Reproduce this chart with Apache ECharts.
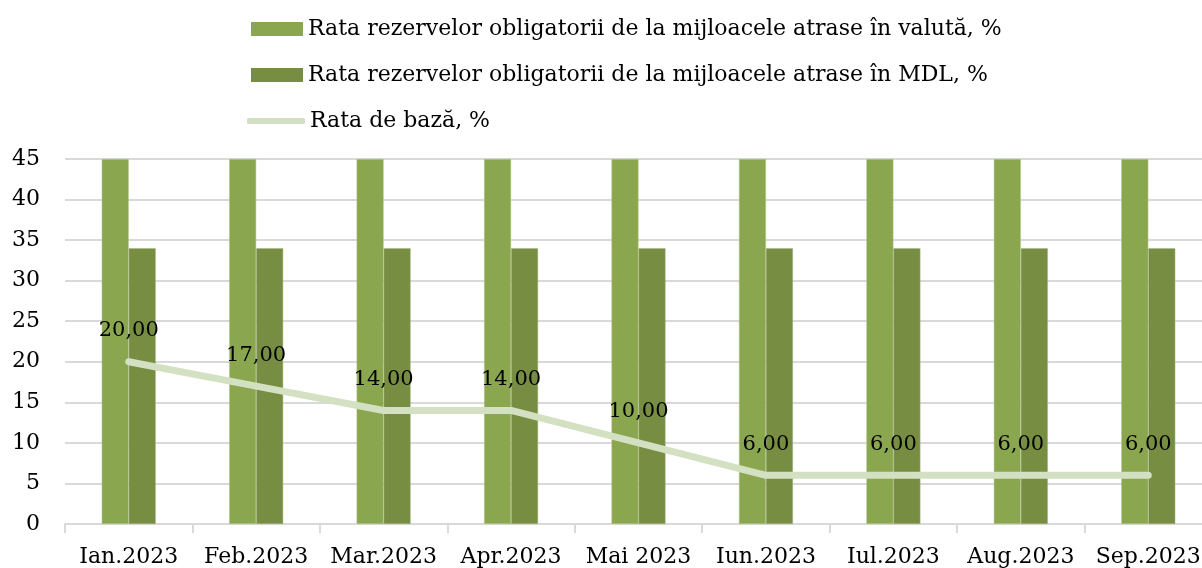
<!DOCTYPE html>
<html>
<head>
<meta charset="utf-8">
<script src="https://cdn.jsdelivr.net/npm/echarts@6/dist/echarts.min.js"></script>
<style>
  html, body { margin: 0; padding: 0; background: #fff; }
  #chart { width: 1202px; height: 568px; }
</style>
</head>
<body>
<div id="chart"></div>
<script>
  // date
  var categories = ['Ian.2023', 'Feb.2023', 'Mar.2023', 'Apr.2023', 'Mai 2023', 'Iun.2023', 'Iul.2023', 'Aug.2023', 'Sep.2023'];
  var valuta = [45, 45, 45, 45, 45, 45, 45, 45, 45];
  var mdl = [34, 34, 34, 34, 34, 34, 34, 34, 34];
  var rataBaza = [20, 17, 14, 14, 10, 6, 6, 6, 6];

  var nameValuta = 'Rata rezervelor obligatorii de la mijloacele atrase în valută, %';
  var nameMdl = 'Rata rezervelor obligatorii de la mijloacele atrase în MDL, %';
  var nameBaza = 'Rata de bază, %';

  var font = 'DejaVu Serif';
  var textStyle = { color: '#000', fontFamily: font, fontSize: 22 };

  var myChart = echarts.init(document.getElementById('chart'));
  myChart.setOption({
    animation: false,
    textStyle: { fontFamily: font },
    legend: [
      {
        left: 251, top: 18, padding: 0, itemWidth: 52, itemHeight: 14, itemGap: 5,
        icon: 'rect', data: [nameValuta], textStyle: textStyle,
        itemStyle: { borderWidth: 0 }
      },
      {
        left: 251, top: 64, padding: 0, itemWidth: 52, itemHeight: 14, itemGap: 5,
        icon: 'rect', data: [nameMdl], textStyle: textStyle,
        itemStyle: { borderWidth: 0 }
      },
      {
        left: 247, top: 110, padding: 0, itemWidth: 58, itemHeight: 6, itemGap: 3,
        icon: 'roundRect', data: [nameBaza], textStyle: textStyle
      }
    ],
    grid: {
      top: 159,
      left: 65,
      width: 1147, // zona graficului iese putin din imagine, ca in original
      bottom: 44,
      containLabel: false,
      outerBoundsMode: 'none'
    },
    xAxis: {
      type: 'category',
      data: categories,
      axisLine: { lineStyle: { color: '#d9d9d9', width: 2 } },
      axisTick: { show: true, length: 9, lineStyle: { color: '#d9d9d9', width: 2 } },
      axisLabel: { color: '#000', fontFamily: font, fontSize: 22, margin: 22, interval: 0 }
    },
    yAxis: {
      type: 'value',
      min: 0,
      max: 45,
      interval: 5,
      axisLine: { show: false },
      axisTick: { show: false },
      splitLine: { lineStyle: { color: '#d9d9d9', width: 2 } },
      axisLabel: { color: '#000', fontFamily: font, fontSize: 22, margin: 25 }
    },
    series: [
      {
        name: nameValuta,
        type: 'bar',
        data: valuta,
        barWidth: 27,
        barGap: 0,
        itemStyle: { color: '#8aa64e', borderColor: '#b5c98f', borderWidth: 0.5 }
      },
      {
        name: nameMdl,
        type: 'bar',
        data: mdl,
        barWidth: 27,
        barGap: 0,
        itemStyle: { color: '#768d42', borderColor: '#a6b886', borderWidth: 0.5 }
      },
      {
        name: nameBaza,
        type: 'line',
        data: rataBaza,
        symbol: 'circle',
        symbolSize: 1,
        itemStyle: { color: '#d3e0c2' },
        lineStyle: { color: '#d3e0c2', width: 7, cap: 'round', join: 'round' },
        label: {
          show: true,
          position: 'top',
          distance: 20,
          color: '#000',
          fontFamily: font,
          fontSize: 21,
          formatter: function (p) {
            return p.value.toFixed(2).replace('.', ',');
          }
        },
        z: 5
      }
    ]
  });
  window.addEventListener('resize', myChart.resize);
</script>
</body>
</html>
